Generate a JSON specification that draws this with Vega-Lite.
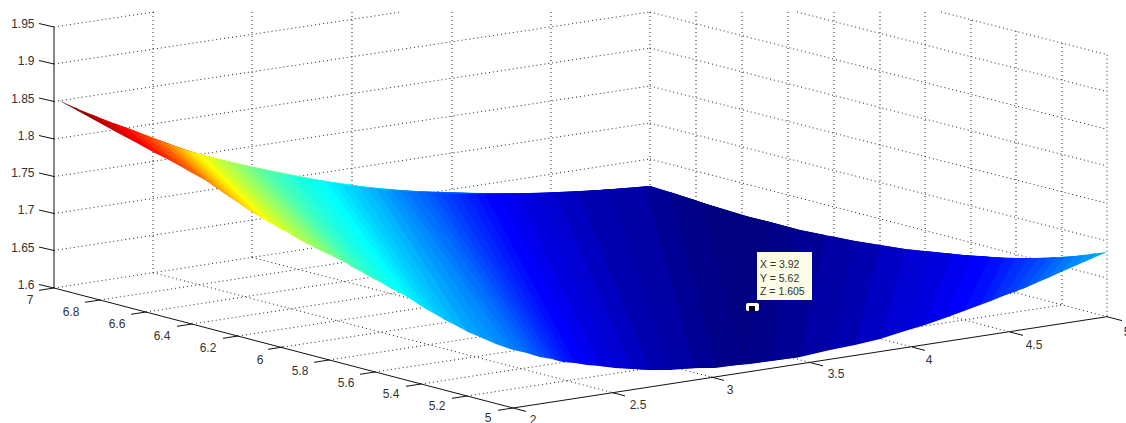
{"$schema":"https://vega.github.io/schema/vega-lite/v6.json","width":1126,"height":423,"padding":0,"autosize":{"type":"none"},"background":"white","config":{"view":{"stroke":null}},
"datasets":{
"grid":[
{"x":54,"y":288,"x2":650,"y2":196},{"x":54,"y":250.5,"x2":650,"y2":159},{"x":54,"y":213.5,"x2":650,"y2":123},{"x":54,"y":176.5,"x2":650,"y2":86},{"x":54,"y":139,"x2":650,"y2":48},{"x":54,"y":101.5,"x2":650,"y2":12},{"x":54,"y":64,"x2":401,"y2":12},{"x":54,"y":27,"x2":154,"y2":12},
{"x":650,"y":196,"x2":1107,"y2":316.7},{"x":650,"y":159,"x2":1107,"y2":278},{"x":650,"y":123,"x2":1107,"y2":241},{"x":650,"y":86,"x2":1107,"y2":203.3},{"x":650,"y":48,"x2":1107,"y2":166},{"x":650,"y":12,"x2":1107,"y2":129.3},{"x":797,"y":12,"x2":1107,"y2":91.7},{"x":941,"y":12,"x2":1107,"y2":54.7},
{"x":153,"y":12,"x2":153,"y2":272.7},{"x":252,"y":12,"x2":252,"y2":257.4},{"x":352,"y":12,"x2":352,"y2":242},{"x":452,"y":12,"x2":452,"y2":226.5},{"x":551,"y":12,"x2":551,"y2":211},{"x":650,"y":12,"x2":650,"y2":196},
{"x":696,"y":12,"x2":696,"y2":208},{"x":742,"y":12,"x2":742,"y2":220},{"x":788,"y":12,"x2":788,"y2":232.5},{"x":834,"y":12,"x2":834,"y2":244.7},{"x":880,"y":12,"x2":880,"y2":257},{"x":925,"y":12,"x2":925,"y2":268.7},{"x":971,"y":20,"x2":971,"y2":281},{"x":1016,"y":31,"x2":1016,"y2":292.8},{"x":1062,"y":43,"x2":1062,"y2":305},{"x":1107,"y":54.7,"x2":1107,"y2":316.7},
{"x":100,"y":300,"x2":696,"y2":208},{"x":146,"y":312,"x2":742,"y2":220},{"x":192,"y":324,"x2":788,"y2":232.5},{"x":238,"y":336,"x2":834,"y2":244.7},{"x":283,"y":347,"x2":880,"y2":257},{"x":329,"y":360,"x2":925,"y2":268.7},{"x":375,"y":372,"x2":971,"y2":281},{"x":421,"y":384,"x2":1016,"y2":292.8},{"x":467,"y":396,"x2":1062,"y2":305},
{"x":153,"y":272.7,"x2":612,"y2":392.5},{"x":252,"y":257.4,"x2":711,"y2":377},{"x":352,"y":242,"x2":810,"y2":362.5},{"x":452,"y":226.5,"x2":912,"y2":347},{"x":551,"y":211,"x2":1010,"y2":332}
],
"axes":[
{"x":54,"y":27,"x2":54,"y2":288},{"x":54,"y":288,"x2":513,"y2":408},{"x":513,"y":408,"x2":1107,"y2":316.7},
{"x":54,"y":27,"x2":39,"y2":23.5},{"x":54,"y":64,"x2":39,"y2":60.5},{"x":54,"y":101.5,"x2":39,"y2":98},{"x":54,"y":139,"x2":39,"y2":135.5},{"x":54,"y":176.5,"x2":39,"y2":173},{"x":54,"y":213.5,"x2":39,"y2":210},{"x":54,"y":250.5,"x2":39,"y2":247},{"x":54,"y":288,"x2":39,"y2":284.5},
{"x":54,"y":288,"x2":39,"y2":290.3},{"x":100,"y":300,"x2":85,"y2":302.3},{"x":146,"y":312,"x2":131,"y2":314.3},{"x":192,"y":324,"x2":177,"y2":326.3},{"x":238,"y":336,"x2":223,"y2":338.3},{"x":283,"y":347,"x2":268,"y2":349.3},{"x":329,"y":360,"x2":314,"y2":362.3},{"x":375,"y":372,"x2":360,"y2":374.3},{"x":421,"y":384,"x2":406,"y2":386.3},{"x":467,"y":396,"x2":452,"y2":398.3},{"x":513,"y":408,"x2":498,"y2":410.3},
{"x":513,"y":408,"x2":526,"y2":411.4},{"x":612,"y":392.5,"x2":625,"y2":395.9},{"x":711,"y":377,"x2":724,"y2":380.4},{"x":810,"y":362.5,"x2":823,"y2":365.9},{"x":912,"y":347,"x2":925,"y2":350.4},{"x":1010,"y":332,"x2":1023,"y2":335.4},{"x":1107,"y":316.7,"x2":1122,"y2":320.6}
],
"labels":[
{"x":34.5,"y":24,"t":"1.95"},{"x":34.5,"y":61,"t":"1.9"},{"x":34.5,"y":99,"t":"1.85"},{"x":34.5,"y":136,"t":"1.8"},{"x":34.5,"y":173,"t":"1.75"},{"x":34.5,"y":210,"t":"1.7"},{"x":34.5,"y":247.5,"t":"1.65"},{"x":34.5,"y":285,"t":"1.6"}
],
"ticklabels":[
{"x":30,"y":300,"t":"7"},{"x":71,"y":312,"t":"6.8"},{"x":117,"y":324,"t":"6.6"},{"x":162,"y":336,"t":"6.4"},{"x":208,"y":348,"t":"6.2"},{"x":260,"y":360,"t":"6"},{"x":300,"y":371,"t":"5.8"},{"x":346,"y":383,"t":"5.6"},{"x":391,"y":394,"t":"5.4"},{"x":437,"y":406,"t":"5.2"},{"x":488,"y":418,"t":"5"},
{"x":533,"y":419.5,"t":"2"},{"x":638,"y":405,"t":"2.5"},{"x":730,"y":390,"t":"3"},{"x":836,"y":374,"t":"3.5"},{"x":929,"y":360,"t":"4"},{"x":1034,"y":345,"t":"4.5"},{"x":1127,"y":332,"t":"5"}
],
"surface":[
{"k":0,"z":1.605,"x":600,"top":190,"bottom":366},{"k":0,"z":1.605,"x":650,"top":186,"bottom":370},{"k":0,"z":1.605,"x":700,"top":202,"bottom":368},{"k":0,"z":1.605,"x":750,"top":217,"bottom":364},{"k":0,"z":1.605,"x":800,"top":230,"bottom":357},
{"k":1,"z":1.85,"x":58,"top":100,"bottom":100},{"k":1,"z":1.85,"x":78,"top":109,"bottom":111},
{"k":2,"z":1.843,"x":75,"top":107,"bottom":107},{"k":2,"z":1.843,"x":78,"top":109,"bottom":111},{"k":2,"z":1.843,"x":98,"top":117,"bottom":122},
{"k":3,"z":1.835,"x":90,"top":114,"bottom":114},{"k":3,"z":1.835,"x":98,"top":117,"bottom":122},{"k":3,"z":1.835,"x":118,"top":125,"bottom":133},
{"k":4,"z":1.828,"x":102,"top":119,"bottom":119},{"k":4,"z":1.828,"x":118,"top":125,"bottom":133},{"k":4,"z":1.828,"x":135,"top":131,"bottom":142},
{"k":5,"z":1.821,"x":114,"top":123,"bottom":123},{"k":5,"z":1.821,"x":135,"top":131,"bottom":142},{"k":5,"z":1.821,"x":155,"top":139,"bottom":153},
{"k":6,"z":1.813,"x":125,"top":127,"bottom":127},{"k":6,"z":1.813,"x":155,"top":139,"bottom":153},{"k":6,"z":1.813,"x":167,"top":143,"bottom":159},
{"k":7,"z":1.807,"x":135,"top":131,"bottom":131},{"k":7,"z":1.807,"x":167,"top":143,"bottom":159},{"k":7,"z":1.807,"x":180,"top":148,"bottom":166},
{"k":8,"z":1.801,"x":145,"top":135,"bottom":135},{"k":8,"z":1.801,"x":180,"top":148,"bottom":166},{"k":8,"z":1.801,"x":192,"top":152,"bottom":173},
{"k":9,"z":1.795,"x":153,"top":138,"bottom":138},{"k":9,"z":1.795,"x":192,"top":152,"bottom":173},{"k":9,"z":1.795,"x":205,"top":156,"bottom":180},
{"k":10,"z":1.789,"x":160,"top":141,"bottom":141},{"k":10,"z":1.789,"x":205,"top":156,"bottom":180},{"k":10,"z":1.789,"x":215,"top":159,"bottom":187},
{"k":11,"z":1.783,"x":168,"top":144,"bottom":144},{"k":11,"z":1.783,"x":215,"top":159,"bottom":187},{"k":11,"z":1.783,"x":225,"top":161,"bottom":194},
{"k":12,"z":1.777,"x":175,"top":147,"bottom":147},{"k":12,"z":1.777,"x":225,"top":161,"bottom":194},{"k":12,"z":1.777,"x":237,"top":164,"bottom":202},
{"k":13,"z":1.77,"x":182,"top":149,"bottom":149},{"k":13,"z":1.77,"x":237,"top":164,"bottom":202},{"k":13,"z":1.77,"x":250,"top":167,"bottom":211},
{"k":14,"z":1.764,"x":188,"top":151,"bottom":151},{"k":14,"z":1.764,"x":250,"top":167,"bottom":211},{"k":14,"z":1.764,"x":262,"top":170,"bottom":218},
{"k":15,"z":1.758,"x":195,"top":153,"bottom":153},{"k":15,"z":1.758,"x":262,"top":170,"bottom":218},{"k":15,"z":1.758,"x":268,"top":171,"bottom":222},
{"k":15.5,"z":1.755,"x":200,"top":155,"bottom":155},{"k":15.5,"z":1.755,"x":268,"top":171,"bottom":222},{"k":15.5,"z":1.755,"x":274,"top":172,"bottom":225},
{"k":16,"z":1.752,"x":204,"top":156,"bottom":156},{"k":16,"z":1.752,"x":274,"top":172,"bottom":225},{"k":16,"z":1.752,"x":280,"top":174,"bottom":229},
{"k":16.5,"z":1.749,"x":208,"top":157,"bottom":157},{"k":16.5,"z":1.749,"x":280,"top":174,"bottom":229},{"k":16.5,"z":1.749,"x":287,"top":175,"bottom":232},
{"k":17,"z":1.746,"x":213,"top":158,"bottom":158},{"k":17,"z":1.746,"x":287,"top":175,"bottom":232},{"k":17,"z":1.746,"x":293,"top":176,"bottom":236},
{"k":17.5,"z":1.743,"x":217,"top":159,"bottom":159},{"k":17.5,"z":1.743,"x":293,"top":176,"bottom":236},{"k":17.5,"z":1.743,"x":300,"top":178,"bottom":240},
{"k":18,"z":1.74,"x":222,"top":160,"bottom":160},{"k":18,"z":1.74,"x":300,"top":178,"bottom":240},{"k":18,"z":1.74,"x":307,"top":179,"bottom":244},
{"k":18.5,"z":1.737,"x":227,"top":161,"bottom":161},{"k":18.5,"z":1.737,"x":307,"top":179,"bottom":244},{"k":18.5,"z":1.737,"x":314,"top":180,"bottom":247},
{"k":19,"z":1.734,"x":232,"top":163,"bottom":163},{"k":19,"z":1.734,"x":314,"top":180,"bottom":247},{"k":19,"z":1.734,"x":321,"top":181,"bottom":251},
{"k":19.5,"z":1.731,"x":237,"top":164,"bottom":164},{"k":19.5,"z":1.731,"x":321,"top":181,"bottom":251},{"k":19.5,"z":1.731,"x":328,"top":182,"bottom":254},
{"k":20,"z":1.728,"x":242,"top":165,"bottom":165},{"k":20,"z":1.728,"x":328,"top":182,"bottom":254},{"k":20,"z":1.728,"x":334,"top":183,"bottom":257},
{"k":20.5,"z":1.725,"x":247,"top":166,"bottom":166},{"k":20.5,"z":1.725,"x":334,"top":183,"bottom":257},{"k":20.5,"z":1.725,"x":340,"top":184,"bottom":260},
{"k":21,"z":1.721,"x":253,"top":168,"bottom":168},{"k":21,"z":1.721,"x":340,"top":184,"bottom":260},{"k":21,"z":1.721,"x":346,"top":185,"bottom":263},
{"k":21.5,"z":1.718,"x":259,"top":169,"bottom":169},{"k":21.5,"z":1.718,"x":346,"top":185,"bottom":263},{"k":21.5,"z":1.718,"x":352,"top":186,"bottom":267},
{"k":22,"z":1.715,"x":265,"top":171,"bottom":171},{"k":22,"z":1.715,"x":352,"top":186,"bottom":267},{"k":22,"z":1.715,"x":358,"top":187,"bottom":270},
{"k":22.5,"z":1.712,"x":272,"top":173,"bottom":173},{"k":22.5,"z":1.712,"x":358,"top":187,"bottom":270},{"k":22.5,"z":1.712,"x":365,"top":187,"bottom":274},
{"k":23,"z":1.709,"x":280,"top":174,"bottom":174},{"k":23,"z":1.709,"x":365,"top":187,"bottom":274},{"k":23,"z":1.709,"x":372,"top":188,"bottom":278},
{"k":23.5,"z":1.706,"x":287,"top":175,"bottom":175},{"k":23.5,"z":1.706,"x":372,"top":188,"bottom":278},{"k":23.5,"z":1.706,"x":380,"top":189,"bottom":282},
{"k":24,"z":1.703,"x":295,"top":177,"bottom":177},{"k":24,"z":1.703,"x":380,"top":189,"bottom":282},{"k":24,"z":1.703,"x":390,"top":190,"bottom":288},
{"k":24.5,"z":1.7,"x":306,"top":179,"bottom":179},{"k":24.5,"z":1.7,"x":390,"top":190,"bottom":288},{"k":24.5,"z":1.7,"x":400,"top":191,"bottom":293},
{"k":25,"z":1.697,"x":317,"top":181,"bottom":181},{"k":25,"z":1.697,"x":400,"top":191,"bottom":293},{"k":25,"z":1.697,"x":409,"top":192,"bottom":298},
{"k":25.5,"z":1.694,"x":326,"top":182,"bottom":182},{"k":25.5,"z":1.694,"x":409,"top":192,"bottom":298},{"k":25.5,"z":1.694,"x":418,"top":192,"bottom":304},
{"k":26,"z":1.691,"x":335,"top":184,"bottom":184},{"k":26,"z":1.691,"x":418,"top":192,"bottom":304},{"k":26,"z":1.691,"x":426,"top":192,"bottom":309},
{"k":26.5,"z":1.688,"x":342,"top":185,"bottom":185},{"k":26.5,"z":1.688,"x":426,"top":192,"bottom":309},{"k":26.5,"z":1.688,"x":435,"top":193,"bottom":314},
{"k":27,"z":1.685,"x":350,"top":186,"bottom":186},{"k":27,"z":1.685,"x":435,"top":193,"bottom":314},{"k":27,"z":1.685,"x":445,"top":194,"bottom":320},
{"k":27.5,"z":1.682,"x":359,"top":187,"bottom":187},{"k":27.5,"z":1.682,"x":445,"top":194,"bottom":320},{"k":27.5,"z":1.682,"x":455,"top":194,"bottom":325},
{"k":28,"z":1.679,"x":368,"top":188,"bottom":188},{"k":28,"z":1.679,"x":455,"top":194,"bottom":325},{"k":28,"z":1.679,"x":468,"top":194,"bottom":332},
{"k":28.5,"z":1.675,"x":376,"top":189,"bottom":189},{"k":28.5,"z":1.675,"x":468,"top":194,"bottom":332},{"k":28.5,"z":1.675,"x":482,"top":194,"bottom":338},
{"k":29,"z":1.672,"x":385,"top":190,"bottom":190},{"k":29,"z":1.672,"x":482,"top":194,"bottom":338},{"k":29,"z":1.672,"x":496,"top":194,"bottom":344},
{"k":29.5,"z":1.669,"x":392,"top":190,"bottom":190},{"k":29.5,"z":1.669,"x":496,"top":194,"bottom":344},{"k":29.5,"z":1.669,"x":510,"top":194,"bottom":349},
{"k":30,"z":1.666,"x":400,"top":191,"bottom":191},{"k":30,"z":1.666,"x":510,"top":194,"bottom":349},{"k":30,"z":1.666,"x":518,"top":194,"bottom":351},
{"k":30.5,"z":1.663,"x":408,"top":192,"bottom":192},{"k":30.5,"z":1.663,"x":518,"top":194,"bottom":351},{"k":30.5,"z":1.663,"x":527,"top":194,"bottom":353},
{"k":31,"z":1.66,"x":417,"top":192,"bottom":192},{"k":31,"z":1.66,"x":527,"top":194,"bottom":353},{"k":31,"z":1.66,"x":533,"top":194,"bottom":355},
{"k":31.5,"z":1.657,"x":425,"top":192,"bottom":192},{"k":31.5,"z":1.657,"x":533,"top":194,"bottom":355},{"k":31.5,"z":1.657,"x":540,"top":194,"bottom":357},
{"k":32,"z":1.654,"x":433,"top":193,"bottom":193},{"k":32,"z":1.654,"x":540,"top":194,"bottom":357},{"k":32,"z":1.654,"x":546,"top":194,"bottom":358},
{"k":32.5,"z":1.651,"x":441,"top":194,"bottom":194},{"k":32.5,"z":1.651,"x":546,"top":194,"bottom":358},{"k":32.5,"z":1.651,"x":552,"top":193,"bottom":359},
{"k":33,"z":1.648,"x":449,"top":194,"bottom":194},{"k":33,"z":1.648,"x":552,"top":193,"bottom":359},{"k":33,"z":1.648,"x":557,"top":193,"bottom":360.5},
{"k":33.5,"z":1.645,"x":458,"top":194,"bottom":194},{"k":33.5,"z":1.645,"x":557,"top":193,"bottom":360.5},{"k":33.5,"z":1.645,"x":563,"top":193,"bottom":362},
{"k":34,"z":1.642,"x":467,"top":194,"bottom":194},{"k":34,"z":1.642,"x":563,"top":193,"bottom":362},{"k":34,"z":1.642,"x":569,"top":193,"bottom":362.5},
{"k":34.5,"z":1.639,"x":476,"top":194,"bottom":194},{"k":34.5,"z":1.639,"x":569,"top":193,"bottom":362.5},{"k":34.5,"z":1.639,"x":575,"top":193,"bottom":363},
{"k":35,"z":1.636,"x":485,"top":194,"bottom":194},{"k":35,"z":1.636,"x":575,"top":193,"bottom":363},{"k":35,"z":1.636,"x":587,"top":191,"bottom":365},
{"k":36,"z":1.632,"x":500,"top":194,"bottom":194},{"k":36,"z":1.632,"x":587,"top":191,"bottom":365},{"k":36,"z":1.632,"x":600,"top":190,"bottom":366},
{"k":37,"z":1.628,"x":517,"top":194,"bottom":194},{"k":37,"z":1.628,"x":600,"top":190,"bottom":366},{"k":37,"z":1.628,"x":615,"top":189,"bottom":368},
{"k":38,"z":1.625,"x":535,"top":194,"bottom":194},{"k":38,"z":1.625,"x":615,"top":189,"bottom":368},{"k":38,"z":1.625,"x":632,"top":188,"bottom":369},
{"k":39,"z":1.621,"x":555,"top":193,"bottom":193},{"k":39,"z":1.621,"x":632,"top":188,"bottom":369},{"k":39,"z":1.621,"x":650,"top":186,"bottom":370},
{"k":40,"z":1.617,"x":577,"top":192,"bottom":192},{"k":40,"z":1.617,"x":650,"top":186,"bottom":370},{"k":40,"z":1.617,"x":670,"top":192,"bottom":370},
{"k":41,"z":1.614,"x":610,"top":189,"bottom":189},{"k":41,"z":1.614,"x":670,"top":192,"bottom":370},{"k":41,"z":1.614,"x":695,"top":200,"bottom":368},
{"k":42,"z":1.61,"x":645,"top":187,"bottom":187},{"k":42,"z":1.61,"x":695,"top":200,"bottom":368},{"k":42,"z":1.61,"x":715,"top":207,"bottom":368},
{"k":43,"z":1.607,"x":670,"top":192,"bottom":192},{"k":43,"z":1.607,"x":715,"top":207,"bottom":368},{"k":43,"z":1.607,"x":745,"top":216,"bottom":364},
{"k":44,"z":1.605,"x":700,"top":202,"bottom":202},{"k":44,"z":1.605,"x":745,"top":216,"bottom":364},
{"k":50,"z":1.676,"x":1091,"top":254,"bottom":259},{"k":50,"z":1.676,"x":1107,"top":252,"bottom":252},
{"k":50.5,"z":1.6725,"x":1075,"top":256,"bottom":266},{"k":50.5,"z":1.6725,"x":1091,"top":254,"bottom":259},{"k":50.5,"z":1.6725,"x":1096,"top":253,"bottom":253},
{"k":51,"z":1.669,"x":1061,"top":257,"bottom":272},{"k":51,"z":1.669,"x":1075,"top":256,"bottom":266},{"k":51,"z":1.669,"x":1085,"top":255,"bottom":255},
{"k":51.5,"z":1.665,"x":1048,"top":258,"bottom":278},{"k":51.5,"z":1.665,"x":1061,"top":257,"bottom":272},{"k":51.5,"z":1.665,"x":1075,"top":256,"bottom":256},
{"k":52,"z":1.661,"x":1036,"top":258,"bottom":283},{"k":52,"z":1.661,"x":1048,"top":258,"bottom":278},{"k":52,"z":1.661,"x":1065,"top":257,"bottom":257},
{"k":52.5,"z":1.6575,"x":1025,"top":258,"bottom":288},{"k":52.5,"z":1.6575,"x":1036,"top":258,"bottom":283},{"k":52.5,"z":1.6575,"x":1056,"top":257,"bottom":257},
{"k":53,"z":1.654,"x":1014,"top":258,"bottom":292},{"k":53,"z":1.654,"x":1025,"top":258,"bottom":288},{"k":53,"z":1.654,"x":1048,"top":258,"bottom":258},
{"k":53.5,"z":1.65,"x":1003,"top":258,"bottom":296},{"k":53.5,"z":1.65,"x":1014,"top":258,"bottom":292},{"k":53.5,"z":1.65,"x":1038,"top":258,"bottom":258},
{"k":54,"z":1.647,"x":991,"top":257,"bottom":301},{"k":54,"z":1.647,"x":1003,"top":258,"bottom":296},{"k":54,"z":1.647,"x":1028,"top":258,"bottom":258},
{"k":54.5,"z":1.643,"x":980,"top":256,"bottom":305},{"k":54.5,"z":1.643,"x":991,"top":257,"bottom":301},{"k":54.5,"z":1.643,"x":1016,"top":258,"bottom":258},
{"k":55,"z":1.639,"x":964,"top":255,"bottom":311},{"k":55,"z":1.639,"x":980,"top":256,"bottom":305},{"k":55,"z":1.639,"x":1005,"top":258,"bottom":258},
{"k":56,"z":1.636,"x":945,"top":253,"bottom":318},{"k":56,"z":1.636,"x":964,"top":255,"bottom":311},{"k":56,"z":1.636,"x":990,"top":257,"bottom":257},
{"k":57,"z":1.632,"x":925,"top":251,"bottom":325},{"k":57,"z":1.632,"x":945,"top":253,"bottom":318},{"k":57,"z":1.632,"x":972,"top":256,"bottom":256},
{"k":58,"z":1.628,"x":905,"top":249,"bottom":331},{"k":58,"z":1.628,"x":925,"top":251,"bottom":325},{"k":58,"z":1.628,"x":952,"top":254,"bottom":254},
{"k":59,"z":1.625,"x":880,"top":245,"bottom":339},{"k":59,"z":1.625,"x":905,"top":249,"bottom":331},{"k":59,"z":1.625,"x":930,"top":252,"bottom":252},
{"k":60,"z":1.621,"x":855,"top":241,"bottom":345},{"k":60,"z":1.621,"x":880,"top":245,"bottom":339},{"k":60,"z":1.621,"x":905,"top":249,"bottom":249},
{"k":61,"z":1.617,"x":830,"top":236,"bottom":350},{"k":61,"z":1.617,"x":855,"top":241,"bottom":345},{"k":61,"z":1.617,"x":880,"top":245,"bottom":245},
{"k":62,"z":1.614,"x":800,"top":230,"bottom":357},{"k":62,"z":1.614,"x":830,"top":236,"bottom":350},{"k":62,"z":1.614,"x":855,"top":241,"bottom":241},
{"k":63,"z":1.61,"x":770,"top":222,"bottom":361},{"k":63,"z":1.61,"x":800,"top":230,"bottom":357},{"k":63,"z":1.61,"x":825,"top":235,"bottom":235},
{"k":64,"z":1.607,"x":745,"top":216,"bottom":364},{"k":64,"z":1.607,"x":770,"top":222,"bottom":361},{"k":64,"z":1.607,"x":795,"top":229,"bottom":229},
{"k":65,"z":1.605,"x":745,"top":216,"bottom":364},{"k":65,"z":1.605,"x":770,"top":222,"bottom":222}
],
"tipbox":[{"x":757,"y":252,"x2":812,"y2":300}],
"tipmarkOuter":[{"x":746,"y":303,"x2":759,"y2":311}],
"tipmarkInner":[{"x":749,"y":306,"x2":755,"y2":311}],
"tiptext":[{"x":760,"y":265,"t":"X = 3.92"},{"x":760,"y":278.5,"t":"Y = 5.62"},{"x":760,"y":292,"t":"Z = 1.605"}]
},
"layer":[
{"data":{"name":"grid"},"mark":{"type":"rule","color":"#222222","strokeWidth":1,"strokeDash":[1,3]},"encoding":{"x":{"field":"x","type":"quantitative","scale":{"domain":[0,1126],"nice":false,"zero":false},"axis":null},"y":{"field":"y","type":"quantitative","scale":{"domain":[423,0],"nice":false,"zero":false},"axis":null},"x2":{"field":"x2"},"y2":{"field":"y2"}}},
{"data":{"name":"surface"},"mark":{"type":"area","interpolate":"linear","clip":false,"opacity":1},"encoding":{"x":{"field":"x","type":"quantitative","axis":null},"y":{"field":"top","type":"quantitative","axis":null,"stack":null},"y2":{"field":"bottom"},"detail":{"field":"k","type":"nominal"},"color":{"field":"z","type":"quantitative","legend":null,"scale":{"domain":[1.605,1.636,1.697,1.758,1.819,1.85],"range":["#000080","#0000ff","#00ffff","#ffff00","#ff0000","#800000"],"interpolate":"rgb"}}}},
{"data":{"name":"axes"},"mark":{"type":"rule","color":"#111111","strokeWidth":1},"encoding":{"x":{"field":"x","type":"quantitative","axis":null},"y":{"field":"y","type":"quantitative","axis":null},"x2":{"field":"x2"},"y2":{"field":"y2"}}},
{"data":{"name":"labels"},"mark":{"type":"text","align":"right","baseline":"middle","font":"Liberation Sans","fontSize":12,"color":"#333333"},"encoding":{"x":{"field":"x","type":"quantitative","axis":null},"y":{"field":"y","type":"quantitative","axis":null},"text":{"field":"t"}}},
{"data":{"name":"ticklabels"},"mark":{"type":"text","align":"center","baseline":"middle","font":"Liberation Sans","fontSize":12,"color":"#333333"},"encoding":{"x":{"field":"x","type":"quantitative","axis":null},"y":{"field":"y","type":"quantitative","axis":null},"text":{"field":"t"}}},
{"data":{"name":"tipbox"},"mark":{"type":"rect","color":"#fbfbe6"},"encoding":{"x":{"field":"x","type":"quantitative","axis":null},"y":{"field":"y","type":"quantitative","axis":null},"x2":{"field":"x2"},"y2":{"field":"y2"}}},
{"data":{"name":"tipmarkOuter"},"mark":{"type":"rect","color":"#ffffff","cornerRadius":2},"encoding":{"x":{"field":"x","type":"quantitative","axis":null},"y":{"field":"y","type":"quantitative","axis":null},"x2":{"field":"x2"},"y2":{"field":"y2"}}},
{"data":{"name":"tipmarkInner"},"mark":{"type":"rect","color":"#000000"},"encoding":{"x":{"field":"x","type":"quantitative","axis":null},"y":{"field":"y","type":"quantitative","axis":null},"x2":{"field":"x2"},"y2":{"field":"y2"}}},
{"data":{"name":"tiptext"},"mark":{"type":"text","align":"left","baseline":"middle","font":"Liberation Sans","fontSize":10.5,"color":"#333333"},"encoding":{"x":{"field":"x","type":"quantitative","axis":null},"y":{"field":"y","type":"quantitative","axis":null},"text":{"field":"t"}}}
]}
